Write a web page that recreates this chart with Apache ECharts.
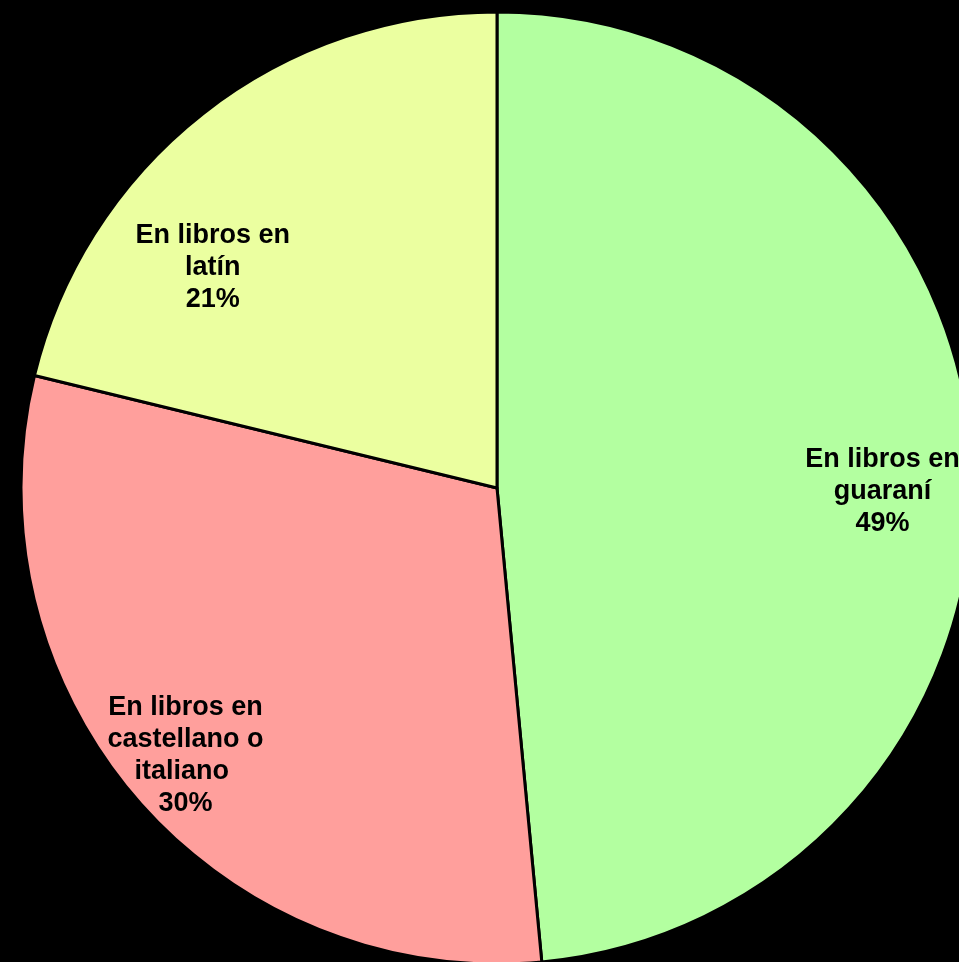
<!DOCTYPE html>
<html>
<head>
<meta charset="utf-8">
<title>Pie chart</title>
<script src="https://cdn.jsdelivr.net/npm/echarts@6/dist/echarts.min.js"></script>
<style>
  html, body {
    margin: 0;
    padding: 0;
    background: #000;
  }
  #main {
    width: 959px;
    height: 962px;
  }
</style>
</head>
<body>
<div id="main"></div>
<script>
// categories, clockwise from 12 o'clock
const categories = [
  'En libros en\nguaraní',
  'En libros en\ncastellano o\nitaliano ',
  'En libros en\nlatín'
]
// shares in percent
const values = [48.5, 30.3, 21.2]
const colors = ['#b3ffa0', '#ff9f9c', '#ebffa0']
// small label nudges (px) to sit where the original placed them
const labelNudge = [
  [2, 22],
  [-21, 16],
  [-47, 81]
]

const chart = echarts.init(document.getElementById('main'))

// filled slices
const pieData = categories.map((name, i) => ({
  name: name,
  value: values[i],
  itemStyle: { color: colors[i] }
}))
// same values, no fill, only for the labels
const labelData = categories.map((name, i) => ({
  name: name,
  value: values[i]
}))

chart.setOption({
  backgroundColor: '#000',
  animation: false,
  series: [
    /* the pie itself */
    {
      type: 'pie',
      center: [497, 488],
      radius: 476,
      startAngle: 90,
      clockwise: true,
      silent: true,
      label: { show: false },
      labelLine: { show: false },
      itemStyle: {
        borderColor: '#000',
        borderWidth: 3
      },
      data: pieData
    },
    /* transparent ring, only used to carry the labels out towards the rim */
    {
      type: 'pie',
      center: [497, 488],
      radius: [286, 476],
      startAngle: 90,
      clockwise: true,
      silent: true,
      itemStyle: { color: 'rgba(0,0,0,0)', borderWidth: 0 },
      labelLine: { show: false },
      label: {
        show: true,
        position: 'inside',
        color: '#000',
        fontFamily: '"Liberation Sans", Arial, sans-serif',
        fontWeight: 'bold',
        fontSize: 27,
        lineHeight: 32,
        align: 'center',
        formatter: p => p.name + '\n' + Math.round(p.percent) + '%'
      },
      labelLayout: p => ({
        dx: labelNudge[p.dataIndex][0],
        dy: labelNudge[p.dataIndex][1]
      }),
      data: labelData
    }
  ]
})
</script>
</body>
</html>
